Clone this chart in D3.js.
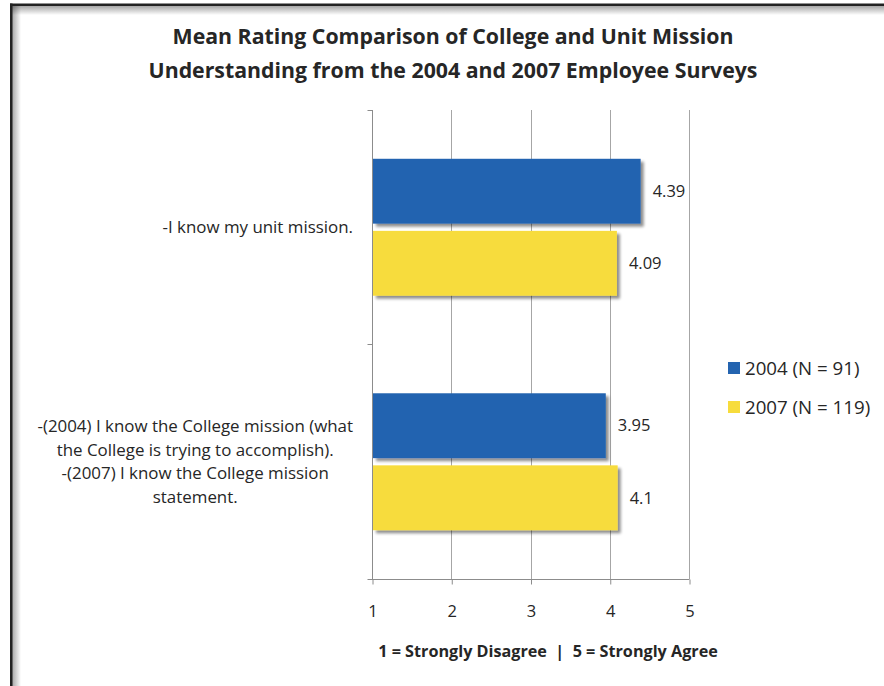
<!DOCTYPE html>
<html>
<head>
<meta charset="utf-8">
<script src="https://cdn.jsdelivr.net/npm/d3@7"></script>
<style>
  body { margin: 0; background: #fff; }
  svg { display: block; font-family: "Open Sans", Lato, sans-serif; }
</style>
</head>
<body>
<svg id="chart" width="884" height="686"></svg>
<script>
// Chart data.
const categories = [
  ['-I know my unit mission.'],
  ['-(2004) I know the College mission (what',
   'the College is trying to accomplish).',
   '-(2007) I know the College mission',
   'statement.']
];
const seriesNames = ['2004 (N = 91)', '2007 (N = 119)'];
const values2004 = [4.39, 3.95];
const values2007 = [4.09, 4.1];
const tickValues = [1, 2, 3, 4, 5];
const titleLines = [
  'Mean Rating Comparison of College and Unit Mission',
  'Understanding from the 2004 and 2007 Employee Surveys'
];
const axisTitle = '1 = Strongly Disagree  |  5 = Strongly Agree';

(function() {
  'use strict';

  const colors = ['#2464b0', '#f7dc3c'];
  const textColor = '#262626';
  const svg = d3.select('#chart');
  const defs = svg.append('defs');

  // Frame shadows: dark line on top and left, fading inward.
  const gTop = defs.append('linearGradient')
    .attr('id', 'shadeTop').attr('x1', 0).attr('y1', 0).attr('x2', 0).attr('y2', 1);
  gTop.append('stop').attr('offset', 0).attr('stop-color', '#000').attr('stop-opacity', 0.35);
  gTop.append('stop').attr('offset', 1).attr('stop-color', '#000').attr('stop-opacity', 0);
  const gLeft = defs.append('linearGradient')
    .attr('id', 'shadeLeft').attr('x1', 0).attr('y1', 0).attr('x2', 1).attr('y2', 0);
  gLeft.append('stop').attr('offset', 0).attr('stop-color', '#000').attr('stop-opacity', 0.35);
  gLeft.append('stop').attr('offset', 1).attr('stop-color', '#000').attr('stop-opacity', 0);

  defs.append('filter')
    .attr('id', 'barShadow')
    .attr('x', '-5%').attr('y', '-10%').attr('width', '115%').attr('height', '130%')
    .html(`<feGaussianBlur in="SourceAlpha" stdDeviation="1.5"/>
      <feOffset dx="2.5" dy="2.5" result="off"/>
      <feComponentTransfer><feFuncA type="linear" slope="0.45"/></feComponentTransfer>
      <feMerge><feMergeNode/><feMergeNode in="SourceGraphic"/></feMerge>`);

  svg.append('rect').attr('x', 12).attr('y', 6).attr('width', 872).attr('height', 9)
    .attr('fill', 'url(#shadeTop)');
  svg.append('rect').attr('x', 12).attr('y', 6).attr('width', 9).attr('height', 680)
    .attr('fill', 'url(#shadeLeft)');
  svg.append('rect').attr('x', 10).attr('y', 3.5).attr('width', 874).attr('height', 2.5)
    .attr('fill', '#222');
  svg.append('rect').attr('x', 10).attr('y', 3.5).attr('width', 2.5).attr('height', 683)
    .attr('fill', '#222');

  // Title
  svg.append('g').selectAll('text')
    .data(titleLines)
    .join('text')
    .attr('x', 453)
    .attr('y', (d, i) => 37 + i * 34)
    .attr('dy', '0.35em')
    .attr('text-anchor', 'middle')
    .attr('font-size', 21.3)
    .attr('font-weight', 'bold')
    .attr('fill', textColor)
    .text(d => d);

  const plot = {left: 372, right: 689, top: 110, bottom: 579};

  const x = d3.scaleLinear().domain([1, 5]).range([plot.left, plot.right]);
  const y = d3.scaleBand()
    .domain(d3.range(categories.length))
    .range([plot.top, plot.bottom])
    .paddingInner(0.416)
    .paddingOuter(0.208);
  const ySub = d3.scaleBand()
    .domain(d3.range(seriesNames.length))
    .range([0, y.bandwidth()])
    .paddingInner(0.1);

  // Gridlines
  svg.append('g').selectAll('line')
    .data(tickValues.slice(1))
    .join('line')
    .attr('x1', d => Math.round(x(d)) + 0.5).attr('x2', d => Math.round(x(d)) + 0.5)
    .attr('y1', plot.top).attr('y2', plot.bottom)
    .attr('stroke', '#a6a6a6').attr('stroke-width', 1);

  // Bottom axis
  const xAxis = svg.append('g')
    .attr('transform', `translate(0.5, ${plot.bottom + 0.5})`)
    .call(d3.axisBottom(x).tickValues(tickValues).tickSize(5).tickPadding(21)
      .tickFormat(d3.format('d')));
  xAxis.select('.domain').attr('stroke', '#8c8c8c').attr('d', `M${plot.left - 5},0H${plot.right}`);
  xAxis.selectAll('.tick line').attr('stroke', '#8c8c8c');
  xAxis.selectAll('.tick text')
    .attr('font-family', '"Open Sans", Lato, sans-serif')
    .attr('font-size', 16.5).attr('fill', textColor);

  // Left axis: line with category separator ticks
  const yAxis = svg.append('g').attr('transform', `translate(${plot.left + 0.5}, 0)`);
  yAxis.append('line')
    .attr('y1', plot.top).attr('y2', plot.bottom)
    .attr('stroke', '#8c8c8c');
  yAxis.selectAll('line.sep')
    .data(d3.range(categories.length))
    .join('line')
    .attr('class', 'sep')
    .attr('x1', -5).attr('x2', 0)
    .attr('y1', d => Math.round(y(d) - y.step() * y.paddingInner() / 2) + 0.5)
    .attr('y2', d => Math.round(y(d) - y.step() * y.paddingInner() / 2) + 0.5)
    .attr('stroke', '#8c8c8c');

  // Category labels, wrapped lines centred in a block right-aligned to the axis
  const labelRight = 353;
  const lineH = 23.5;
  categories.forEach((lines, ci) => {
    const g = svg.append('g').attr('class', 'cat');
    const texts = g.selectAll('text')
      .data(lines)
      .join('text')
      .attr('font-size', 16.9)
      .attr('fill', textColor)
      .attr('text-anchor', 'middle')
      .text(d => d);
    let maxW = 0;
    texts.each(function() { maxW = Math.max(maxW, this.getComputedTextLength()); });
    const cy = y(ci) + y.bandwidth() / 2;
    const y0 = cy - (lines.length - 1) * lineH / 2;
    texts.attr('x', labelRight - maxW / 2)
      .attr('y', (d, i) => y0 + i * lineH)
      .attr('dy', '0.35em');
  });

  // Bars
  const seriesValues = [values2004, values2007];
  const barData = [];
  categories.forEach((c, ci) => {
    seriesValues.forEach((vals, si) => barData.push({ci, si, v: vals[ci]}));
  });

  const barY = d => y(d.ci) + ySub(d.si);
  svg.append('g').selectAll('rect')
    .data(barData)
    .join('rect')
    .attr('x', x(1) + 1)
    .attr('y', barY)
    .attr('width', d => x(d.v) - x(1) - 1)
    .attr('height', ySub.bandwidth())
    .attr('fill', d => colors[d.si])
    .attr('filter', 'url(#barShadow)');

  svg.append('g').selectAll('text')
    .data(barData)
    .join('text')
    .attr('x', d => x(d.v) + 12)
    .attr('y', d => barY(d) + ySub.bandwidth() / 2)
    .attr('dy', '0.35em')
    .attr('font-size', 16.5)
    .attr('fill', textColor)
    .text(d => d.v);

  // Axis title
  svg.append('text')
    .attr('x', 548).attr('y', 651).attr('dy', '0.35em')
    .attr('text-anchor', 'middle')
    .attr('font-size', 16.2).attr('font-weight', 'bold')
    .attr('fill', textColor)
    .style('white-space', 'pre')
    .text(axisTitle);

  // Legend
  const legend = svg.append('g').selectAll('g')
    .data(seriesNames)
    .join('g')
    .attr('transform', (d, i) => `translate(728, ${368 + i * 39})`);
  legend.append('rect')
    .attr('x', 0).attr('y', -6).attr('width', 12).attr('height', 12)
    .attr('fill', (d, i) => colors[i]);
  legend.append('text')
    .attr('x', 17).attr('dy', '0.35em')
    .attr('font-size', 18.7)
    .attr('fill', textColor)
    .text(d => d);
})();
</script>
</body>
</html>
